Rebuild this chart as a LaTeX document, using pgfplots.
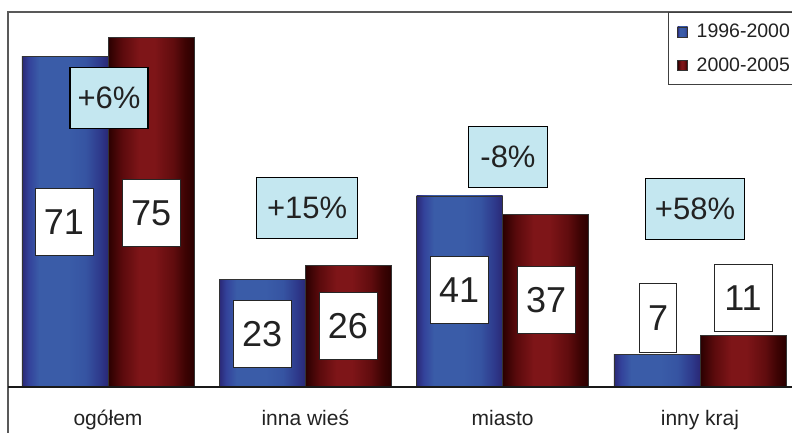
\documentclass[border=0pt]{standalone}
\usepackage{fontspec}
\setmainfont{Liberation Sans}
\usepackage{pgfplots}
\pgfplotsset{compat=1.18}
\definecolor{pctblue}{HTML}{C4E7F0}
\definecolor{txt}{HTML}{222222}
\definecolor{bA}{HTML}{2A2876}
\definecolor{bB}{HTML}{33429A}
\definecolor{bC}{HTML}{3A5CA8}
\definecolor{bD}{HTML}{3654A2}
\definecolor{bE}{HTML}{2E3A8C}
\definecolor{rA}{HTML}{2A0000}
\definecolor{rB}{HTML}{5A0A0C}
\definecolor{rC}{HTML}{7E1518}
\definecolor{rD}{HTML}{600C0E}
\definecolor{rE}{HTML}{3C0303}
\pgfdeclarehorizontalshading{blueshade}{100bp}{color(0bp)=(bA); color(25bp)=(bA); color(29bp)=(bB); color(35bp)=(bC); color(52bp)=(bC); color(62bp)=(bD); color(70bp)=(bE); color(75bp)=(bA); color(100bp)=(bA)}
\pgfdeclarehorizontalshading{redshade}{100bp}{color(0bp)=(rA); color(25bp)=(rA); color(33bp)=(rB); color(43bp)=(rC); color(52bp)=(rC); color(63bp)=(rD); color(70bp)=(rE); color(75bp)=(rA); color(100bp)=(rA)}
\tikzset{
  numbox/.style={draw=black!85, line width=0.8pt, fill=white, minimum height=67pt, minimum width=58pt, inner sep=0pt, font=\fontsize{36}{40}\selectfont, text=txt},
  pctbox/.style={draw=black, line width=1.2pt, fill=pctblue, minimum height=61pt, inner sep=0pt, font=\fontsize{31}{34}\selectfont, text=txt},
}
\pgfplotsset{
  bluebar/.style={bar shift=-0.218, shade, shading=blueshade, draw=black!80, line width=0.8pt},
  redbar/.style={bar shift=0.218, shade, shading=redshade, draw=black!80, line width=0.8pt},
}
\begin{document}
\begin{tikzpicture}
\useasboundingbox (0,0) rectangle (792pt,432pt);
\clip (0,0) rectangle (792pt,432pt);
\begin{axis}[
  at={(8pt,-8pt)}, anchor=south west, scale only axis,
  width=792pt, height=428pt,
  xmin=-0.5068, xmax=3.5068, ymin=-11.373, ymax=80.472,
  ybar, bar width=0.436,
  axis line style={draw=black!65, line width=1.3pt},
  xtick={0,1,2,3}, xticklabels={ogółem, inna wieś, miasto, inny kraj},
  ytick=\empty, major tick length=0,
  xticklabel style={anchor=base, yshift=15pt, font=\fontsize{21}{24}\selectfont, text=txt},
  clip=false,
  legend style={at={(0.8333,1)}, anchor=north west, draw=black!75, line width=0.9pt,
    font=\fontsize{19.5}{22}\selectfont, text=txt, inner xsep=9pt, inner ysep=7.8pt,
    row sep=10.6pt, nodes={inner xsep=5pt, inner ysep=4pt}},
  legend cell align=left,
  legend image code/.code={\draw[#1, draw=black!80, line width=0.5pt] (0pt,-5pt) rectangle (10pt,5pt); \path[draw=none, fill=none] (0pt,0pt) rectangle (14pt,0pt);},
]
\addplot[bluebar] coordinates {(0,71)};
\addplot[redbar] coordinates {(0,75)};
\addplot[bluebar, forget plot] coordinates {(1,23)};
\addplot[bluebar, forget plot] coordinates {(2,41)};
\addplot[bluebar, forget plot] coordinates {(3,7)};
\addplot[redbar, forget plot] coordinates {(1,26)};
\addplot[redbar, forget plot] coordinates {(2,37)};
\addplot[redbar, forget plot] coordinates {(3,11)};
\legend{1996-2000, 2000-2005}
\draw[black!90, line width=1.3pt] (axis cs:-0.5068,0) -- (axis cs:3.6,0);
\node[numbox] at (axis cs:-0.223,35.4) {71};
\node[numbox] at (axis cs:0.218,37.3) {75};
\node[numbox] at (axis cs:0.781,11.4) {23};
\node[numbox] at (axis cs:1.216,13.1) {26};
\node[numbox] at (axis cs:1.779,20.8) {41};
\node[numbox] at (axis cs:2.220,18.7) {37};
\node[numbox, minimum width=37pt, minimum height=69pt] at (axis cs:2.788,14.8) {7};
\node[numbox] at (axis cs:3.218,19.1) {11};
\node[pctbox, minimum width=78pt] at (axis cs:0.005,62.0) {+6\%};
\node[pctbox, minimum width=101pt] at (axis cs:1.009,38.4) {+15\%};
\node[pctbox, minimum width=79pt] at (axis cs:2.027,49.4) {-8\%};
\node[pctbox, minimum width=99pt] at (axis cs:2.975,38.2) {+58\%};
\end{axis}
\end{tikzpicture}
\end{document}
